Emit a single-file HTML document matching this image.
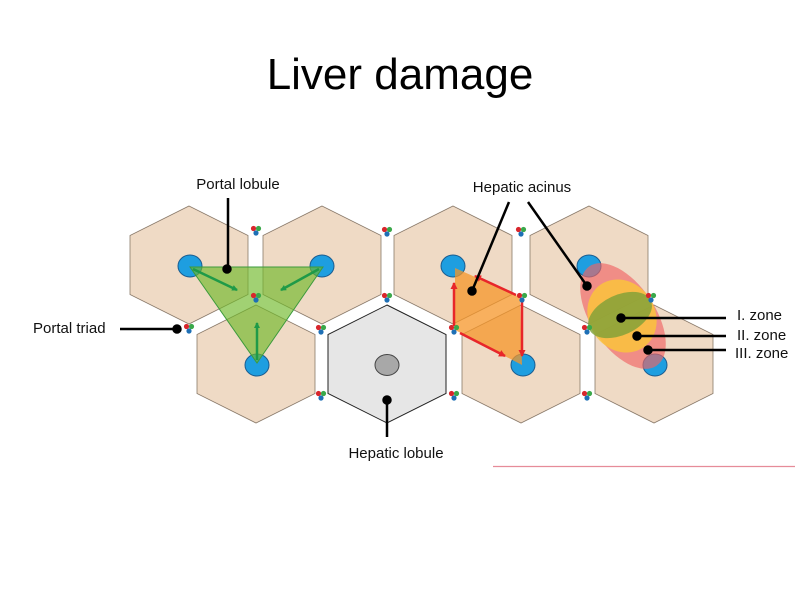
<!DOCTYPE html>
<html><head><meta charset="utf-8"><style>
html,body{margin:0;padding:0;background:#fff;}
svg{display:block;}
text{font-family:"Liberation Sans",sans-serif;}
</style></head><body>
<svg width="800" height="600" viewBox="0 0 800 600" xmlns="http://www.w3.org/2000/svg">
<defs>
<polygon id="hx" points="0,-59 59,-29.5 59,29.5 0,59 -59,29.5 -59,-29.5"/>
<g id="tr"><circle cx="-2.5" cy="-1.5" r="2.6" fill="#d8262c"/><circle cx="2.5" cy="-1.5" r="2.6" fill="#3aa84a"/><circle cx="0" cy="3" r="2.6" fill="#1e6fb5"/></g>
<marker id="ag" markerWidth="6" markerHeight="6" refX="5" refY="3" orient="auto" markerUnits="userSpaceOnUse"><path d="M0,0 L6,3 L0,6 z" fill="#1f9a48"/></marker>
<marker id="ar" markerWidth="7" markerHeight="7" refX="6" refY="3.5" orient="auto" markerUnits="userSpaceOnUse"><path d="M0,0 L7,3.5 L0,7 z" fill="#e8262a"/></marker>
</defs>
<text x="400" y="89" font-size="44" text-anchor="middle" fill="#000">Liver damage</text>

<g fill="#efdac5" stroke="#8a7a6a" stroke-width="0.8">
<use href="#hx" x="189" y="265"/>
<use href="#hx" x="322" y="265"/>
<use href="#hx" x="453" y="265"/>
<use href="#hx" x="589" y="265"/>
<use href="#hx" x="256" y="364"/>
<use href="#hx" x="521" y="364"/>
<use href="#hx" x="654" y="364"/>
</g>
<use href="#hx" x="387" y="364" fill="#e6e6e6" stroke="#222" stroke-width="1"/>
<ellipse cx="387" cy="365" rx="12" ry="10.5" fill="#a8a8a8" stroke="#444" stroke-width="1"/>

<g fill="#1e9ee0" stroke="#1a5c90" stroke-width="1">
<ellipse cx="190" cy="266" rx="12" ry="11"/>
<ellipse cx="322" cy="266" rx="12" ry="11"/>
<ellipse cx="453" cy="266" rx="12" ry="11"/>
<ellipse cx="589" cy="266" rx="12" ry="11"/>
<ellipse cx="257" cy="365" rx="12" ry="11"/>
<ellipse cx="523" cy="365" rx="12" ry="11"/>
<ellipse cx="655" cy="365" rx="12" ry="11"/>
</g>

<polygon points="190,267 323,267 257,363" fill="rgba(110,185,40,0.65)" stroke="#3c9a3c" stroke-width="1"/>
<g stroke="#1f9a48" stroke-width="2.5" marker-end="url(#ag)">
<line x1="193" y1="269" x2="237" y2="290"/>
<line x1="319" y1="269" x2="281" y2="290"/>
<line x1="257" y1="360" x2="257" y2="323"/>
</g>

<polygon points="455,268 520,297 522,365 455,330" fill="rgba(245,150,40,0.75)"/>
<g stroke="#e8262a" stroke-width="2.5" marker-end="url(#ar)">
<line x1="454" y1="326" x2="454" y2="283"/>
<line x1="516" y1="295" x2="475" y2="276"/>
<line x1="522" y1="300" x2="522" y2="356"/>
<line x1="460" y1="333" x2="505" y2="356"/>
</g>

<ellipse cx="623" cy="316" rx="60" ry="32" transform="rotate(56 623 316)" fill="rgba(240,100,100,0.65)"/>
<ellipse cx="622" cy="316" rx="38" ry="33" transform="rotate(56 622 316)" fill="rgba(250,195,60,0.85)"/>
<ellipse cx="620" cy="315" rx="34" ry="20" transform="rotate(-25 620 315)" fill="rgba(125,160,55,0.8)"/>

<g>
<use href="#tr" x="256" y="230"/><use href="#tr" x="387" y="231"/><use href="#tr" x="521" y="231"/>
<use href="#tr" x="256" y="297"/><use href="#tr" x="387" y="297"/><use href="#tr" x="522" y="297"/><use href="#tr" x="651" y="297"/>
<use href="#tr" x="189" y="328"/><use href="#tr" x="321" y="329"/><use href="#tr" x="454" y="329"/><use href="#tr" x="587" y="329"/>
<use href="#tr" x="321" y="395"/><use href="#tr" x="454" y="395"/><use href="#tr" x="587" y="395"/>
</g>

<g stroke="#000" stroke-width="2.5" fill="#000">
<line x1="228" y1="198" x2="228" y2="269"/><circle cx="227" cy="269" r="3.5"/>
<line x1="509" y1="202" x2="472" y2="291"/><circle cx="472" cy="291" r="3.5"/>
<line x1="528" y1="202" x2="587" y2="286"/><circle cx="587" cy="286" r="3.5"/>
<line x1="120" y1="329" x2="177" y2="329"/><circle cx="177" cy="329" r="3.5"/>
<line x1="387" y1="400" x2="387" y2="437"/><circle cx="387" cy="400" r="3.5"/>
<line x1="621" y1="318" x2="726" y2="318"/><circle cx="621" cy="318" r="3.5"/>
<line x1="637" y1="336" x2="726" y2="336"/><circle cx="637" cy="336" r="3.5"/>
<line x1="648" y1="350" x2="726" y2="350"/><circle cx="648" cy="350" r="3.5"/>
</g>

<g font-size="15" fill="#111">
<text x="238" y="189" text-anchor="middle">Portal lobule</text>
<text x="522" y="192" text-anchor="middle">Hepatic acinus</text>
<text x="33" y="333">Portal triad</text>
<text x="396" y="458" text-anchor="middle">Hepatic lobule</text>
<text x="737" y="320">I. zone</text>
<text x="737" y="340">II. zone</text>
<text x="735" y="358">III. zone</text>
</g>
<line x1="493" y1="466.5" x2="795" y2="466.5" stroke="#e07080" stroke-width="1.2" opacity="0.8"/>
</svg>
</body></html>
